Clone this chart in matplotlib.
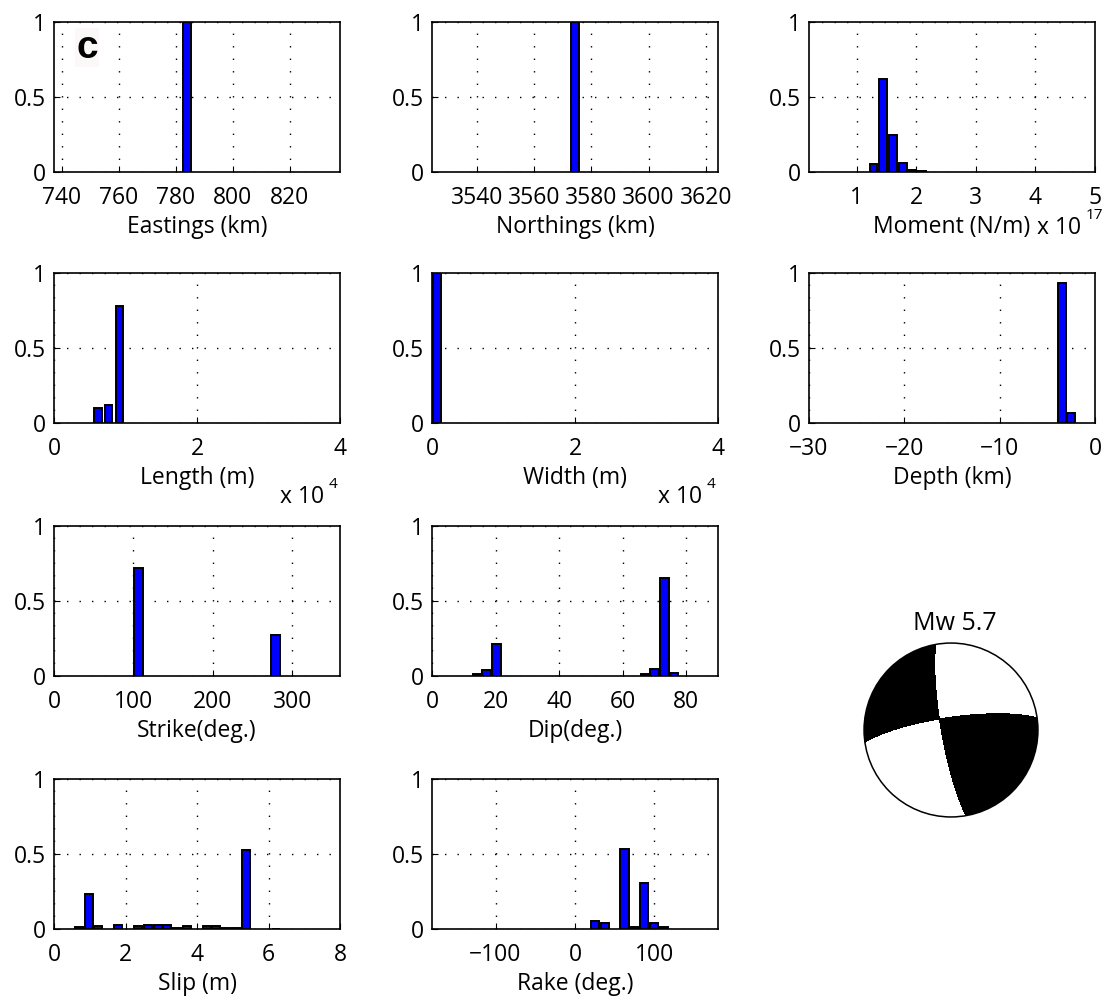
import numpy as np
import matplotlib.pyplot as plt
from matplotlib.patches import Circle

plt.rcParams['font.family'] = ['Open Sans', 'DejaVu Sans']
plt.rcParams['font.size'] = 16.5

# Posterior histograms: bin centres and normalised frequency (non-empty bins)
east_x = [784.0]
east_y = [1.0]
north_x = [3574.3]
north_y = [1.0]
moment_x = [1.287, 1.444, 1.61, 1.775, 1.94, 2.10]          # x 10^17
moment_y = [0.054, 0.62, 0.244, 0.063, 0.016, 0.01]
length_x = [0.617, 0.759, 0.914]                           # x 10^4
length_y = [0.10, 0.12, 0.78]
width_x = [0.065]                                          # x 10^4
width_y = [1.0]
depth_x = [-3.5, -2.5]
depth_y = [0.933, 0.065]
strike_x = [106.0, 279.0]
strike_y = [0.72, 0.273]
dip_x = [14.1, 17.1, 20.3, 67.0, 70.0, 73.1, 76.1]
dip_y = [0.016, 0.042, 0.215, 0.013, 0.047, 0.651, 0.018]
slip_x = [0.69, 0.97, 1.24, 1.80, 2.36, 2.63, 2.90, 3.17, 3.45, 3.72,
          4.27, 4.54, 4.81, 5.09, 5.37, 6.2]
slip_y = [0.016, 0.235, 0.018, 0.027, 0.02, 0.025, 0.029, 0.029, 0.004, 0.02,
          0.022, 0.02, 0.004, 0.004, 0.527, 0.003]
rake_x = [25.1, 37.6, 62.2, 74.7, 86.9, 99.4, 111.4]
rake_y = [0.052, 0.038, 0.534, 0.016, 0.305, 0.038, 0.016]

# best fitting mechanism for the beachball
mw = 5.7
bb_strike, bb_dip, bb_rake = 170.0, 81.0, 168.0

W, H = 1104, 999
fig = plt.figure(figsize=(W / 100, H / 100), dpi=100)


def px_axes(left, top, w, h):
    return fig.add_axes([left / W, 1 - (top + h) / H, w / W, h / H])


panels = [
    # (col, row, x, y, bar width, xlim, xticks, xlabel, offset exponent)
    (0, 0, east_x, east_y, 3.0, (737.3, 837.7), [740, 760, 780, 800, 820], 'Eastings (km)', None),
    (1, 0, north_x, north_y, 3.0, (3524.2, 3624.3), [3540, 3560, 3580, 3600, 3620], 'Northings (km)', None),
    (2, 0, moment_x, moment_y, 0.125, (0.2, 5.0), [1, 2, 3, 4, 5], 'Moment (N/m)', '17'),
    (0, 1, length_x, length_y, 0.105, (0, 4), [0, 2, 4], 'Length (m)', '4'),
    (1, 1, width_x, width_y, 0.11, (0, 4), [0, 2, 4], 'Width (m)', '4'),
    (2, 1, depth_x, depth_y, 0.82, (-30, 0), [-30, -20, -10, 0], 'Depth (km)', None),
    (0, 2, strike_x, strike_y, 11.0, (0, 360), [0, 100, 200, 300], 'Strike(deg.)', None),
    (1, 2, dip_x, dip_y, 2.7, (0, 90), [0, 20, 40, 60, 80], 'Dip(deg.)', None),
    (0, 3, slip_x, slip_y, 0.22, (0, 8), [0, 2, 4, 6, 8], 'Slip (m)', None),
    (1, 3, rake_x, rake_y, 10.5, (-180, 180), [-100, 0, 100], 'Rake (deg.)', None),
]

col_left = [54, 432, 809]
row_top = [22, 273, 526, 779]
ax_w, ax_h = 286, 150

for col, row, xs, ys, bw, xlim, xticks, xlabel, expo in panels:
    ax = px_axes(col_left[col], row_top[row], ax_w, ax_h)
    ax.bar(xs, ys, width=bw, color=(0, 0, 1), edgecolor='black', linewidth=1.4, zorder=3)
    ax.set_xlim(*xlim)
    ax.set_ylim(0, 1)
    ax.set_xticks(xticks)
    ax.set_xticklabels([str(t).replace('-', '\u2212') for t in xticks])
    ax.set_yticks([0, 0.5, 1])
    ax.set_yticklabels(['0', '0.5', '1'])
    ax.tick_params(direction='in', length=4, width=0.8)
    ax.tick_params(axis='x', pad=10)
    ax.tick_params(axis='y', pad=6)
    ax.grid(True, linestyle=(0, (1, 8)), color='black', linewidth=1.0)
    for s in ax.spines.values():
        s.set_linewidth(1.2)
    ax.set_xlabel(xlabel, labelpad=4)
    if expo is not None:
        if row == 0:
            x0, y0 = col_left[col] + 228, row_top[row] + ax_h + 62
        else:
            x0, y0 = col_left[col] + 226, row_top[row] + ax_h + 80
        fig.text(x0 / W, 1 - y0 / H, 'x 10', ha='left', va='baseline')
        fig.text((x0 + 49) / W, 1 - (y0 - 15) / H, expo, ha='left', va='baseline', fontsize=11)
    if col == 0 and row == 0:
        ax.text(0.115, 0.83, 'c', transform=ax.transAxes, fontsize=28, fontweight='bold',
                family=['Liberation Sans', 'DejaVu Sans'], ha='center', va='center', zorder=5,
                bbox=dict(facecolor='#fdf8f8', edgecolor='none', pad=1))

# beachball (lower hemisphere, equal area)
bb = fig.add_axes([(951 - 100) / W, 1 - (730 + 100) / H, 200 / W, 200 / H])
bb.set_xlim(-1.15, 1.15)
bb.set_ylim(-1.15, 1.15)
bb.set_aspect('equal')
bb.axis('off')

phi, dlt, lam = np.radians([bb_strike, bb_dip, bb_rake])
mxx = -(np.sin(dlt) * np.cos(lam) * np.sin(2 * phi) + np.sin(2 * dlt) * np.sin(lam) * np.sin(phi) ** 2)
mxy = np.sin(dlt) * np.cos(lam) * np.cos(2 * phi) + 0.5 * np.sin(2 * dlt) * np.sin(lam) * np.sin(2 * phi)
mxz = -(np.cos(dlt) * np.cos(lam) * np.cos(phi) + np.cos(2 * dlt) * np.sin(lam) * np.sin(phi))
myy = np.sin(dlt) * np.cos(lam) * np.sin(2 * phi) - np.sin(2 * dlt) * np.sin(lam) * np.cos(phi) ** 2
myz = -(np.cos(dlt) * np.cos(lam) * np.sin(phi) - np.cos(2 * dlt) * np.sin(lam) * np.cos(phi))
mzz = np.sin(2 * dlt) * np.sin(lam)

g = np.linspace(-1.0, 1.0, 801)
X, Y = np.meshgrid(g, g)
r = np.clip(np.hypot(X, Y), 0, 1)
inc = 2 * np.arcsin(r / np.sqrt(2))
az = np.arctan2(X, Y)
n1 = np.cos(az) * np.sin(inc)
n2 = np.sin(az) * np.sin(inc)
n3 = np.cos(inc)
pol = (mxx * n1 * n1 + myy * n2 * n2 + mzz * n3 * n3
       + 2 * (mxy * n1 * n2 + mxz * n1 * n3 + myz * n2 * n3))

cs = bb.contourf(X, Y, pol, levels=[-10, 0, 10], colors=['white', 'black'])
clip = Circle((0, 0), 1.0, transform=bb.transData)
cs.set_clip_path(clip)
bb.add_patch(Circle((0, 0), 1.0, facecolor='none', edgecolor='black', linewidth=1.1, zorder=4))

fig.text(955 / W, 1 - 630 / H, 'Mw %.1f' % mw, ha='center', va='baseline', fontsize=18)

fig.savefig('out.png', dpi=100, facecolor='white')
